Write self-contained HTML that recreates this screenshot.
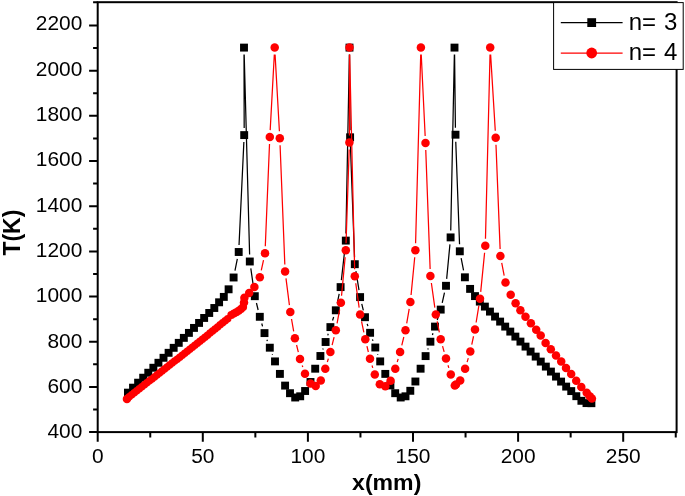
<!DOCTYPE html>
<html><head><meta charset="utf-8"><title>T(K) vs x(mm)</title>
<style>html,body{margin:0;padding:0;background:#fff;overflow:hidden}body{width:685px;height:496px;position:relative}</style>
</head><body>
<svg width="685" height="496" viewBox="0 0 685 496" style="display:block;position:absolute;left:0;top:0">
<rect x="0" y="0" width="685" height="496" fill="#fff"/>
<rect x="97.7" y="2.2" width="578.9" height="429.90000000000003" fill="none" stroke="#000" stroke-width="2.0"/>
<path d="M89.10000000000001 432.10H97.7M89.10000000000001 386.92H97.7M89.10000000000001 341.74H97.7M89.10000000000001 296.57H97.7M89.10000000000001 251.39H97.7M89.10000000000001 206.21H97.7M89.10000000000001 161.03H97.7M89.10000000000001 115.86H97.7M89.10000000000001 70.68H97.7M89.10000000000001 25.50H97.7M93.10000000000001 2.2H97.7M93.10000000000001 409.51H97.7M93.10000000000001 364.33H97.7M93.10000000000001 319.16H97.7M93.10000000000001 273.98H97.7M93.10000000000001 228.80H97.7M93.10000000000001 183.62H97.7M93.10000000000001 138.44H97.7M93.10000000000001 93.27H97.7M93.10000000000001 48.09H97.7M97.70 432.1V441.70000000000005M202.80 432.1V441.70000000000005M307.90 432.1V441.70000000000005M413.00 432.1V441.70000000000005M518.10 432.1V441.70000000000005M623.20 432.1V441.70000000000005M150.25 432.1V437.6M255.35 432.1V437.6M360.45 432.1V437.6M465.55 432.1V437.6M570.65 432.1V437.6M675.75 432.1V437.6" stroke="#000" stroke-width="2.0" fill="none"/>
<g font-family="&quot;Liberation Sans&quot;, sans-serif" font-size="19.9" fill="#000">
<text transform="translate(82.3 438.40) scale(1.05 1)" text-anchor="end">400</text>
<text transform="translate(82.3 393.04) scale(1.05 1)" text-anchor="end">600</text>
<text transform="translate(82.3 347.68) scale(1.05 1)" text-anchor="end">800</text>
<text transform="translate(82.3 302.32) scale(1.05 1)" text-anchor="end">1000</text>
<text transform="translate(82.3 256.96) scale(1.05 1)" text-anchor="end">1200</text>
<text transform="translate(82.3 211.60) scale(1.05 1)" text-anchor="end">1400</text>
<text transform="translate(82.3 166.24) scale(1.05 1)" text-anchor="end">1600</text>
<text transform="translate(82.3 120.88) scale(1.05 1)" text-anchor="end">1800</text>
<text transform="translate(82.3 75.52) scale(1.05 1)" text-anchor="end">2000</text>
<text transform="translate(82.3 30.16) scale(1.05 1)" text-anchor="end">2200</text>
<text transform="translate(97.70 462.7) scale(1.05 1)" text-anchor="middle">0</text>
<text transform="translate(202.80 462.7) scale(1.05 1)" text-anchor="middle">50</text>
<text transform="translate(307.90 462.7) scale(1.05 1)" text-anchor="middle">100</text>
<text transform="translate(413.00 462.7) scale(1.05 1)" text-anchor="middle">150</text>
<text transform="translate(518.10 462.7) scale(1.05 1)" text-anchor="middle">200</text>
<text transform="translate(623.20 462.7) scale(1.05 1)" text-anchor="middle">250</text>
</g>
<g font-family="&quot;Liberation Sans&quot;, sans-serif" font-weight="bold" fill="#000">
<text font-size="22" transform="translate(386.7 490.0) scale(1.05 1)" text-anchor="middle">x(mm)</text>
<text font-size="23" transform="translate(19.9 232.6) rotate(-90) scale(1 1.05)" text-anchor="middle">T(K)</text>
</g>
<path d="M234.97 270.64L237.33 258.86M239.03 245.01L243.87 142.09M244.18 128.10L244.02 54.60M244.19 54.60L249.61 254.50M250.80 268.43L253.80 289.27M256.45 303.00L258.15 310.00M261.74 323.53L262.56 326.37M266.89 339.68L267.41 341.12M272.28 354.24L272.52 354.86M322.84 349.44L323.16 348.56M327.75 335.34L328.25 333.76M332.54 320.44L333.66 316.96M337.22 303.45L339.18 293.95M341.38 280.14L345.02 247.56M345.93 233.60L349.37 54.60M349.55 54.60L350.05 130.30M350.36 144.30L354.54 257.20M355.91 271.11L358.99 290.19M361.76 303.90L363.34 310.40M367.18 323.85L367.92 326.15M372.43 339.40L372.97 340.90M377.63 354.10L377.87 354.80M427.81 349.46L428.19 348.34M432.44 335.00L432.96 333.30M437.23 319.96L438.47 316.24M442.22 302.77L444.48 292.63M446.66 278.83L449.94 244.37M450.74 230.40L454.36 54.60M454.58 54.60L455.42 127.70M455.76 141.70L459.54 244.30M461.15 258.17L463.55 270.43" stroke="#000" stroke-width="1.25" fill="none"/>
<g fill="#000">
<rect x="124.00" y="388.70" width="7.9" height="7.9"/>
<rect x="129.08" y="383.72" width="7.9" height="7.9"/>
<rect x="134.16" y="378.74" width="7.9" height="7.9"/>
<rect x="139.24" y="373.76" width="7.9" height="7.9"/>
<rect x="144.32" y="368.78" width="7.9" height="7.9"/>
<rect x="149.40" y="363.80" width="7.9" height="7.9"/>
<rect x="154.48" y="358.82" width="7.9" height="7.9"/>
<rect x="159.56" y="353.84" width="7.9" height="7.9"/>
<rect x="164.64" y="348.86" width="7.9" height="7.9"/>
<rect x="169.72" y="343.88" width="7.9" height="7.9"/>
<rect x="174.80" y="338.90" width="7.9" height="7.9"/>
<rect x="179.88" y="333.92" width="7.9" height="7.9"/>
<rect x="184.96" y="328.94" width="7.9" height="7.9"/>
<rect x="190.04" y="323.96" width="7.9" height="7.9"/>
<rect x="195.12" y="318.98" width="7.9" height="7.9"/>
<rect x="200.20" y="314.00" width="7.9" height="7.9"/>
<rect x="205.28" y="309.02" width="7.9" height="7.9"/>
<rect x="210.36" y="304.04" width="7.9" height="7.9"/>
<rect x="215.15" y="298.35" width="7.9" height="7.9"/>
<rect x="219.85" y="292.95" width="7.9" height="7.9"/>
<rect x="224.65" y="285.35" width="7.9" height="7.9"/>
<rect x="229.65" y="273.55" width="7.9" height="7.9"/>
<rect x="234.75" y="248.05" width="7.9" height="7.9"/>
<rect x="240.25" y="131.15" width="7.9" height="7.9"/>
<rect x="240.05" y="43.65" width="7.9" height="7.9"/>
<rect x="245.85" y="257.55" width="7.9" height="7.9"/>
<rect x="250.85" y="292.25" width="7.9" height="7.9"/>
<rect x="255.85" y="312.85" width="7.9" height="7.9"/>
<rect x="260.55" y="329.15" width="7.9" height="7.9"/>
<rect x="265.85" y="343.75" width="7.9" height="7.9"/>
<rect x="271.05" y="357.45" width="7.9" height="7.9"/>
<rect x="275.95" y="369.95" width="7.9" height="7.9"/>
<rect x="281.15" y="381.65" width="7.9" height="7.9"/>
<rect x="286.05" y="389.25" width="7.9" height="7.9"/>
<rect x="291.25" y="393.55" width="7.9" height="7.9"/>
<rect x="296.25" y="392.35" width="7.9" height="7.9"/>
<rect x="301.15" y="387.05" width="7.9" height="7.9"/>
<rect x="306.55" y="378.05" width="7.9" height="7.9"/>
<rect x="311.25" y="364.75" width="7.9" height="7.9"/>
<rect x="316.45" y="352.05" width="7.9" height="7.9"/>
<rect x="321.65" y="338.05" width="7.9" height="7.9"/>
<rect x="326.45" y="323.15" width="7.9" height="7.9"/>
<rect x="331.85" y="306.35" width="7.9" height="7.9"/>
<rect x="336.65" y="283.15" width="7.9" height="7.9"/>
<rect x="341.85" y="236.65" width="7.9" height="7.9"/>
<rect x="345.55" y="43.65" width="7.9" height="7.9"/>
<rect x="346.15" y="133.35" width="7.9" height="7.9"/>
<rect x="350.85" y="260.25" width="7.9" height="7.9"/>
<rect x="356.15" y="293.15" width="7.9" height="7.9"/>
<rect x="361.05" y="313.25" width="7.9" height="7.9"/>
<rect x="366.15" y="328.85" width="7.9" height="7.9"/>
<rect x="371.35" y="343.55" width="7.9" height="7.9"/>
<rect x="376.25" y="357.45" width="7.9" height="7.9"/>
<rect x="381.35" y="369.95" width="7.9" height="7.9"/>
<rect x="386.45" y="381.45" width="7.9" height="7.9"/>
<rect x="391.25" y="389.25" width="7.9" height="7.9"/>
<rect x="396.75" y="393.55" width="7.9" height="7.9"/>
<rect x="401.55" y="392.35" width="7.9" height="7.9"/>
<rect x="406.35" y="386.85" width="7.9" height="7.9"/>
<rect x="411.45" y="377.55" width="7.9" height="7.9"/>
<rect x="416.65" y="364.75" width="7.9" height="7.9"/>
<rect x="421.65" y="352.15" width="7.9" height="7.9"/>
<rect x="426.45" y="337.75" width="7.9" height="7.9"/>
<rect x="431.05" y="322.65" width="7.9" height="7.9"/>
<rect x="436.75" y="305.65" width="7.9" height="7.9"/>
<rect x="442.05" y="281.85" width="7.9" height="7.9"/>
<rect x="446.65" y="233.45" width="7.9" height="7.9"/>
<rect x="450.55" y="43.65" width="7.9" height="7.9"/>
<rect x="451.55" y="130.75" width="7.9" height="7.9"/>
<rect x="455.85" y="247.35" width="7.9" height="7.9"/>
<rect x="460.95" y="273.35" width="7.9" height="7.9"/>
<rect x="466.15" y="284.95" width="7.9" height="7.9"/>
<rect x="471.05" y="292.15" width="7.9" height="7.9"/>
<rect x="475.85" y="297.65" width="7.9" height="7.9"/>
<rect x="480.93" y="302.65" width="7.9" height="7.9"/>
<rect x="486.01" y="307.65" width="7.9" height="7.9"/>
<rect x="491.09" y="312.65" width="7.9" height="7.9"/>
<rect x="496.17" y="317.65" width="7.9" height="7.9"/>
<rect x="501.25" y="322.65" width="7.9" height="7.9"/>
<rect x="506.33" y="327.65" width="7.9" height="7.9"/>
<rect x="511.41" y="332.65" width="7.9" height="7.9"/>
<rect x="516.49" y="337.65" width="7.9" height="7.9"/>
<rect x="521.57" y="342.65" width="7.9" height="7.9"/>
<rect x="526.65" y="347.65" width="7.9" height="7.9"/>
<rect x="531.73" y="352.65" width="7.9" height="7.9"/>
<rect x="536.81" y="357.65" width="7.9" height="7.9"/>
<rect x="541.89" y="362.65" width="7.9" height="7.9"/>
<rect x="546.97" y="367.65" width="7.9" height="7.9"/>
<rect x="552.05" y="372.65" width="7.9" height="7.9"/>
<rect x="557.13" y="377.65" width="7.9" height="7.9"/>
<rect x="562.21" y="382.65" width="7.9" height="7.9"/>
<rect x="567.29" y="387.15" width="7.9" height="7.9"/>
<rect x="572.37" y="392.25" width="7.9" height="7.9"/>
<rect x="577.45" y="396.85" width="7.9" height="7.9"/>
<rect x="582.55" y="399.15" width="7.9" height="7.9"/>
<rect x="587.45" y="399.25" width="7.9" height="7.9"/>
</g>
<path d="M261.28 270.46L263.52 260.14M265.29 246.31L269.51 144.09M270.18 130.11L274.32 54.59M275.09 54.59L279.41 131.31M280.08 145.29L284.82 264.41M285.99 278.34L289.41 305.16M291.51 318.99L293.69 331.31M296.57 345.00L298.33 352.10M302.24 365.53L302.76 367.07M327.33 362.00L328.37 358.60M332.10 345.11L334.10 337.09M337.07 323.42L339.63 309.58M341.55 295.73L345.15 257.27M346.03 243.30L349.17 149.60M349.41 135.60L349.49 54.60M349.66 54.60L354.64 269.30M355.76 283.23L359.14 307.57M361.54 321.35L363.86 332.45M366.94 346.11L368.36 351.99M372.05 365.49L372.75 367.81M397.24 361.98L398.16 358.82M401.78 345.30L403.82 337.00M406.70 323.30L409.20 308.90M411.07 295.03L414.73 257.27M415.59 243.30L420.71 54.60M421.24 54.59L425.16 135.91M425.76 149.90L430.14 269.10M431.37 283.03L434.83 307.57M437.16 321.37L439.34 332.43M442.55 346.05L444.15 351.85M448.01 365.30L448.79 367.90M467.10 362.09L468.30 358.11M471.76 344.55L473.54 336.25M476.13 322.49L478.87 305.71M480.70 291.83L484.60 252.77M485.47 238.80L490.03 54.60M490.63 54.59L495.27 130.81M495.98 144.79L500.12 249.01M501.72 262.87L504.18 275.63" stroke="#f00" stroke-width="1.25" fill="none"/>
<g fill="#f00">
<circle cx="126.95" cy="399.10" r="4.25"/>
<circle cx="129.22" cy="396.65" r="3.75"/>
<circle cx="131.75" cy="394.68" r="3.75"/>
<circle cx="134.28" cy="392.70" r="3.75"/>
<circle cx="136.80" cy="390.73" r="3.75"/>
<circle cx="139.32" cy="388.75" r="3.75"/>
<circle cx="141.85" cy="386.78" r="3.75"/>
<circle cx="144.38" cy="384.80" r="3.75"/>
<circle cx="146.90" cy="382.83" r="3.75"/>
<circle cx="149.43" cy="380.85" r="3.75"/>
<circle cx="151.95" cy="378.88" r="3.75"/>
<circle cx="154.47" cy="376.91" r="3.75"/>
<circle cx="157.00" cy="374.93" r="3.75"/>
<circle cx="159.53" cy="372.96" r="3.75"/>
<circle cx="162.05" cy="370.98" r="3.75"/>
<circle cx="164.57" cy="369.01" r="3.75"/>
<circle cx="167.10" cy="367.03" r="3.75"/>
<circle cx="169.62" cy="365.06" r="3.75"/>
<circle cx="172.15" cy="363.08" r="3.75"/>
<circle cx="174.68" cy="361.11" r="3.75"/>
<circle cx="177.20" cy="359.13" r="3.75"/>
<circle cx="179.72" cy="357.16" r="3.75"/>
<circle cx="182.25" cy="355.19" r="3.75"/>
<circle cx="184.78" cy="353.21" r="3.75"/>
<circle cx="187.30" cy="351.24" r="3.75"/>
<circle cx="189.82" cy="349.26" r="3.75"/>
<circle cx="192.35" cy="347.29" r="3.75"/>
<circle cx="194.88" cy="345.31" r="3.75"/>
<circle cx="197.40" cy="343.34" r="3.75"/>
<circle cx="199.93" cy="341.36" r="3.75"/>
<circle cx="202.45" cy="339.30" r="3.75"/>
<circle cx="204.97" cy="337.24" r="3.75"/>
<circle cx="207.50" cy="335.18" r="3.75"/>
<circle cx="210.03" cy="333.11" r="3.75"/>
<circle cx="212.55" cy="331.05" r="3.75"/>
<circle cx="215.07" cy="328.99" r="3.75"/>
<circle cx="217.60" cy="326.93" r="3.75"/>
<circle cx="220.12" cy="324.86" r="3.75"/>
<circle cx="222.65" cy="322.80" r="3.75"/>
<circle cx="225.18" cy="320.74" r="3.75"/>
<circle cx="227.70" cy="318.67" r="3.75"/>
<circle cx="231.30" cy="314.90" r="4.0"/>
<circle cx="233.90" cy="313.50" r="4.0"/>
<circle cx="236.30" cy="312.20" r="4.0"/>
<circle cx="238.70" cy="310.70" r="4.0"/>
<circle cx="241.00" cy="309.00" r="4.0"/>
<circle cx="243.10" cy="307.00" r="4.0"/>
<circle cx="244.00" cy="302.50" r="4.25"/>
<circle cx="244.40" cy="297.70" r="4.25"/>
<circle cx="249.20" cy="292.90" r="4.25"/>
<circle cx="254.40" cy="287.10" r="4.25"/>
<circle cx="259.80" cy="277.30" r="4.25"/>
<circle cx="265.00" cy="253.30" r="4.25"/>
<circle cx="269.80" cy="137.10" r="4.25"/>
<circle cx="274.70" cy="47.60" r="4.25"/>
<circle cx="279.80" cy="138.30" r="4.25"/>
<circle cx="285.10" cy="271.40" r="4.25"/>
<circle cx="290.30" cy="312.10" r="4.25"/>
<circle cx="294.90" cy="338.20" r="4.25"/>
<circle cx="300.00" cy="358.90" r="4.25"/>
<circle cx="305.00" cy="373.70" r="4.25"/>
<circle cx="310.50" cy="383.60" r="4.25"/>
<circle cx="315.70" cy="386.00" r="4.25"/>
<circle cx="320.80" cy="380.50" r="4.25"/>
<circle cx="325.30" cy="368.70" r="4.25"/>
<circle cx="330.40" cy="351.90" r="4.25"/>
<circle cx="335.80" cy="330.30" r="4.25"/>
<circle cx="340.90" cy="302.70" r="4.25"/>
<circle cx="345.80" cy="250.30" r="4.25"/>
<circle cx="349.40" cy="142.60" r="4.25"/>
<circle cx="349.50" cy="47.60" r="4.25"/>
<circle cx="354.80" cy="276.30" r="4.25"/>
<circle cx="360.10" cy="314.50" r="4.25"/>
<circle cx="365.30" cy="339.30" r="4.25"/>
<circle cx="370.00" cy="358.80" r="4.25"/>
<circle cx="374.80" cy="374.50" r="4.25"/>
<circle cx="379.80" cy="384.20" r="4.25"/>
<circle cx="385.30" cy="386.20" r="4.25"/>
<circle cx="390.60" cy="380.80" r="4.25"/>
<circle cx="395.30" cy="368.70" r="4.25"/>
<circle cx="400.10" cy="352.10" r="4.25"/>
<circle cx="405.50" cy="330.20" r="4.25"/>
<circle cx="410.40" cy="302.00" r="4.25"/>
<circle cx="415.40" cy="250.30" r="4.25"/>
<circle cx="420.90" cy="47.60" r="4.25"/>
<circle cx="425.50" cy="142.90" r="4.25"/>
<circle cx="430.40" cy="276.10" r="4.25"/>
<circle cx="435.80" cy="314.50" r="4.25"/>
<circle cx="440.70" cy="339.30" r="4.25"/>
<circle cx="446.00" cy="358.60" r="4.25"/>
<circle cx="450.80" cy="374.60" r="4.25"/>
<circle cx="454.80" cy="385.50" r="4.25"/>
<circle cx="456.00" cy="384.50" r="4.25"/>
<circle cx="460.20" cy="380.60" r="4.25"/>
<circle cx="465.10" cy="368.80" r="4.25"/>
<circle cx="470.30" cy="351.40" r="4.25"/>
<circle cx="475.00" cy="329.40" r="4.25"/>
<circle cx="480.00" cy="298.80" r="4.25"/>
<circle cx="485.30" cy="245.80" r="4.25"/>
<circle cx="490.20" cy="47.60" r="4.25"/>
<circle cx="495.70" cy="137.80" r="4.25"/>
<circle cx="500.40" cy="256.00" r="4.25"/>
<circle cx="505.50" cy="282.50" r="4.25"/>
<circle cx="510.70" cy="294.80" r="4.25"/>
<circle cx="515.60" cy="303.30" r="4.25"/>
<circle cx="520.40" cy="310.20" r="4.25"/>
<circle cx="525.50" cy="316.80" r="4.25"/>
<circle cx="530.90" cy="323.20" r="4.25"/>
<circle cx="536.20" cy="329.80" r="4.25"/>
<circle cx="540.70" cy="335.60" r="4.25"/>
<circle cx="545.60" cy="342.90" r="4.25"/>
<circle cx="550.80" cy="349.20" r="4.25"/>
<circle cx="556.00" cy="355.50" r="4.25"/>
<circle cx="561.20" cy="361.60" r="4.25"/>
<circle cx="566.00" cy="367.90" r="4.25"/>
<circle cx="571.20" cy="374.00" r="4.25"/>
<circle cx="576.20" cy="380.70" r="4.25"/>
<circle cx="581.30" cy="387.00" r="4.25"/>
<circle cx="586.70" cy="392.80" r="4.25"/>
<circle cx="589.70" cy="396.20" r="4.25"/>
<circle cx="591.90" cy="398.50" r="4.25"/>
</g>
<rect x="553.6" y="2.6" width="129.6" height="66.8" fill="#fff" stroke="#000" stroke-width="1"/>
<path d="M560.8 22.6H622.6" stroke="#000" stroke-width="1.25"/>
<rect x="587.3" y="18.2" width="8.8" height="8.8" fill="#000"/>
<path d="M560.8 53.0H622.6" stroke="#f00" stroke-width="1.25"/>
<circle cx="591.7" cy="53.0" r="5.4" fill="#f00"/>
<g font-family="&quot;Liberation Sans&quot;, sans-serif" font-size="24" fill="#000" word-spacing="1.2">
<text transform="translate(628.7 30.0)">n= 3</text>
<text transform="translate(628.7 60.2)">n= 4</text>
</g>
</svg>
</body></html>
